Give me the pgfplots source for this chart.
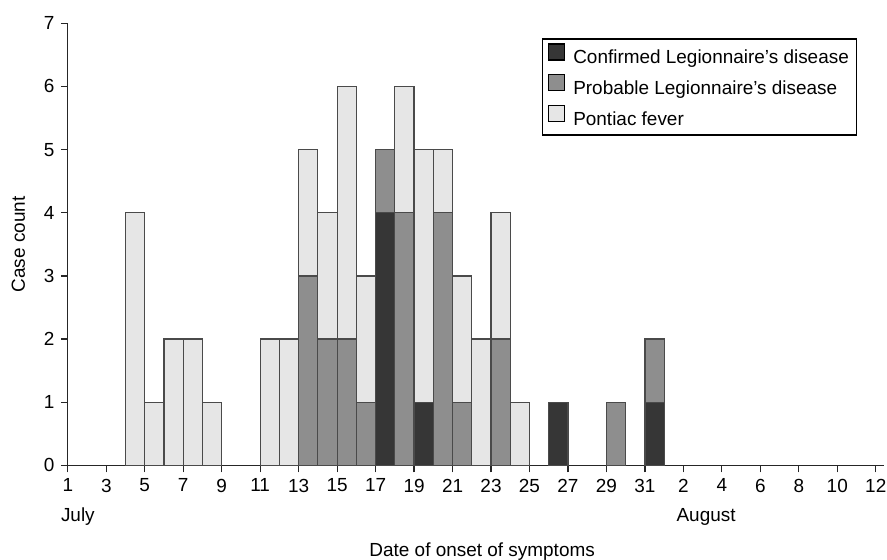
\documentclass[border=0pt]{standalone}
\usepackage{fontspec}
\setmainfont{Liberation Sans}
\usepackage{pgfplots}
\pgfplotsset{compat=1.18}
\usepackage{pgfplotstable}

\definecolor{confc}{HTML}{363636}
\definecolor{probc}{HTML}{8E8E8E}
\definecolor{pontc}{HTML}{E6E6E6}
\definecolor{edgec}{HTML}{4A4A4A}

% bar centre = first day of interval + 0.5
\pgfplotstableread{
x    conf prob pont
4.5  0    0    4
5.5  0    0    1
6.5  0    0    2
7.5  0    0    2
8.5  0    0    1
11.5 0    0    2
12.5 0    0    2
13.5 0    3    2
14.5 0    2    2
15.5 0    2    4
16.5 0    1    2
17.5 4    1    0
18.5 0    4    2
19.5 1    0    4
20.5 0    4    1
21.5 0    1    2
22.5 0    0    2
23.5 0    2    2
24.5 0    0    1
26.5 1    0    0
29.5 0    1    0
31.5 1    1    0
}\casetable

\pgfplotsset{boxlegend/.style={legend image code/.code={
  \draw[##1, draw=black, line width=1.2pt] (0pt,-1.5pt) rectangle (16pt,14.5pt);}}}

\begin{document}
\fontsize{19}{23}\selectfont
\begin{tikzpicture}
\path[use as bounding box] (-68pt,-94.3pt) rectangle (821.5pt,466.7pt);
\begin{axis}[
  scale only axis,
  width=818.9pt, height=443.3pt,
  xmin=1, xmax=43.45, ymin=0, ymax=7,
  axis lines=left,
  axis line style={-, line width=1.2pt, black!85},
  tick align=outside,
  major tick length=7pt,
  tick style={line width=1.2pt, black!85},
  xtick={1,3,...,43},
  xticklabels={1,3,5,7,9,11,13,15,17,19,21,23,25,27,29,31,2,4,6,8,10,12},
  ytick={0,1,...,7},
  /pgf/number format/assume math mode=true,
  tick label style={font=\fontsize{19}{23}\selectfont},
  label style={font=\fontsize{19}{23}\selectfont},
  every axis x label/.style={at={(axis description cs:0,0)}, xshift=415.5pt, yshift=-91.3pt, anchor=base},
  every axis y label/.style={at={(axis description cs:0,0.5)}, xshift=-49.7pt, rotate=90, anchor=center},
  xlabel={Date of onset of symptoms},
  ylabel={Case count},
  ybar stacked,
  bar width=1,
  clip=false,
  legend cell align=left,
  legend style={at={(0.967,0.966)}, anchor=north east, draw=black, line width=1.2pt,
    font=\fontsize{19}{23}\selectfont, row sep=5.5pt, inner xsep=6pt, inner ysep=4.5pt,
    /tikz/every odd column/.append style={column sep=6pt}},
]
\addplot[fill=confc, draw=edgec, line width=1.2pt, boxlegend] table[x=x, y=conf] {\casetable};
\addlegendentry{Confirmed Legionnaire’s disease}
\addplot[fill=probc, draw=edgec, line width=1.2pt, boxlegend] table[x=x, y=prob] {\casetable};
\addlegendentry{Probable Legionnaire’s disease}
\addplot[fill=pontc, draw=edgec, line width=1.2pt, boxlegend] table[x=x, y=pont] {\casetable};
\addlegendentry{Pontiac fever}
\node[anchor=base west, inner sep=0pt, xshift=-7pt, yshift=-56pt] at (axis cs:1,0) {July};
\node[anchor=base west, inner sep=0pt, xshift=-7pt, yshift=-56pt] at (axis cs:33,0) {August};
\end{axis}
\end{tikzpicture}
\end{document}
